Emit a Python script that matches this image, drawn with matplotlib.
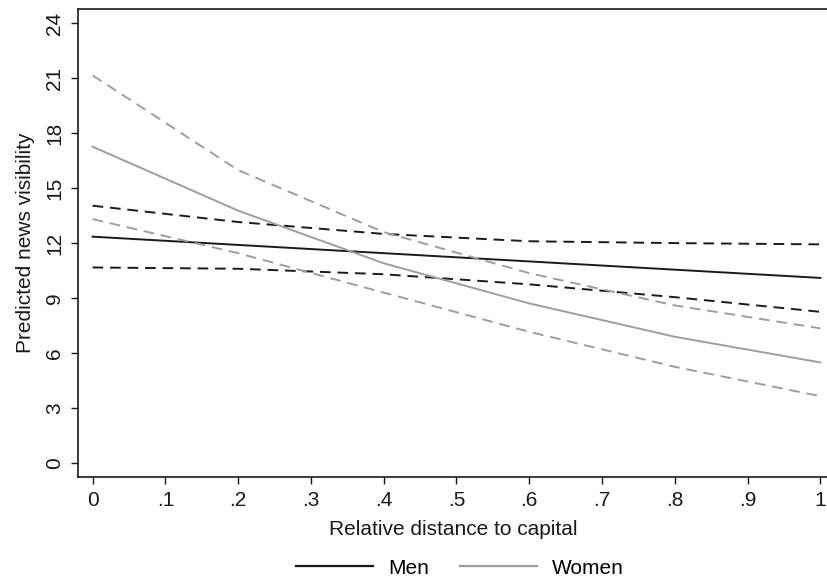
import matplotlib
matplotlib.use("Agg")
import matplotlib.pyplot as plt
from matplotlib.lines import Line2D

plt.rcParams["font.family"] = ["Liberation Sans", "DejaVu Sans"]

# relative distance to capital (prediction points)
dist = [0, 0.2, 0.4, 0.6, 0.8, 1.0]

men = [12.35, 11.9, 11.45, 11.0, 10.55, 10.1]
men_hi = [14.04, 13.15, 12.5, 12.1, 12.0, 11.93]
men_lo = [10.67, 10.6, 10.3, 9.75, 9.05, 8.25]

women = [17.26, 13.77, 10.9, 8.71, 6.89, 5.49]
women_hi = [21.15, 15.98, 12.6, 10.36, 8.6, 7.35]
women_lo = [13.31, 11.45, 9.3, 7.16, 5.25, 3.65]

xticks = [0, 0.1, 0.2, 0.3, 0.4, 0.5, 0.6, 0.7, 0.8, 0.9, 1.0]
xtick_labels = ["0", ".1", ".2", ".3", ".4", ".5", ".6", ".7", ".8", ".9", "1"]
yticks = [0, 3, 6, 9, 12, 15, 18, 21, 24]

black = "#1a1a1a"
gray = "#9e9e9e"

fig = plt.figure(figsize=(8.28, 5.82), dpi=100)
ax = fig.add_axes([78 / 828, 1 - 477 / 582, 750 / 828, 468 / 582])

ax.plot(dist, men, color=black, lw=1.4)
ax.plot(dist, men_hi, color=black, lw=1.4, dashes=(5.5, 3.5))
ax.plot(dist, men_lo, color=black, lw=1.4, dashes=(5.5, 3.5))
ax.plot(dist, women, color=gray, lw=1.4)
ax.plot(dist, women_hi, color=gray, lw=1.4, dashes=(5.5, 3.5))
ax.plot(dist, women_lo, color=gray, lw=1.4, dashes=(5.5, 3.5))

ax.set_xlim(-0.02, 1.0105)
ax.set_ylim(-0.76, 24.77)
ax.set_xticks(xticks)
ax.set_xticklabels(xtick_labels)
ax.set_yticks(yticks)
ax.set_yticklabels([str(v) for v in yticks], rotation=90, va="center")
ax.tick_params(direction="out", length=5, width=1, colors=black, labelsize=15, pad=5)

for s in ax.spines.values():
    s.set_color(black)
    s.set_linewidth(1.2)
ax.spines["right"].set_visible(False)

ax.set_xlabel("Relative distance to capital", fontsize=15, color=black, labelpad=7)
ax.set_ylabel("Predicted news visibility", fontsize=15, color=black, labelpad=7)

handles = [Line2D([], [], color=black, lw=1.6), Line2D([], [], color=gray, lw=1.6)]
fig.legend(handles, ["Men", "Women"], loc="center", bbox_to_anchor=(460 / 828, 1 - 568 / 582),
           ncol=2, frameon=False, fontsize=15, handlelength=3.7, columnspacing=1.5,
           handletextpad=0.7)

fig.savefig("out.png", dpi=100)
